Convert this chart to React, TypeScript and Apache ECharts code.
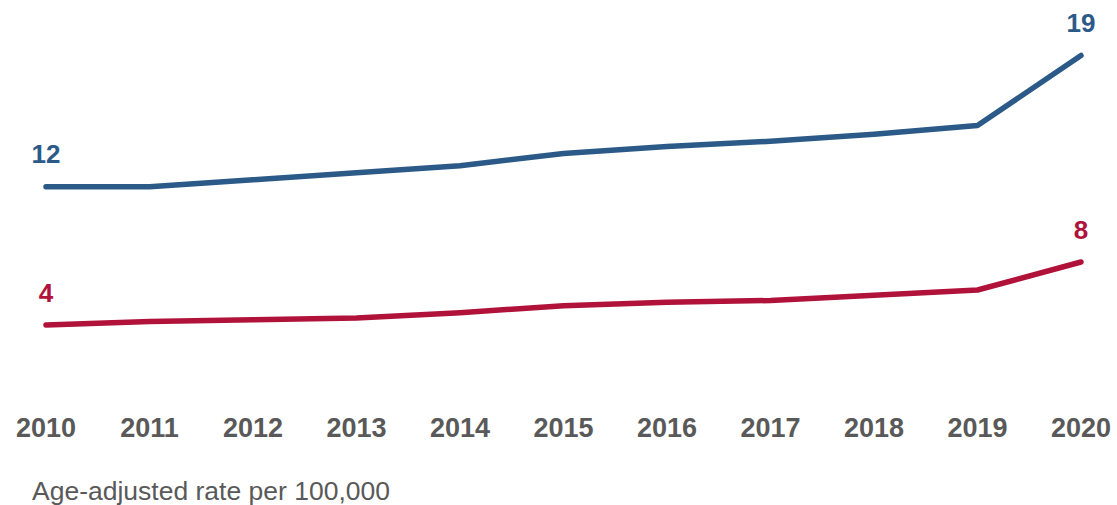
import React, { useEffect, useRef } from "react";
import * as echarts from "echarts";

const years = ["2010", "2011", "2012", "2013", "2014", "2015", "2016", "2017", "2018", "2019", "2020"];
const blueValues = [11.9, 11.9, 12.3, 12.7, 13.1, 13.8, 14.2, 14.5, 14.9, 15.4, 19.4];
const redValues = [4.0, 4.2, 4.3, 4.4, 4.7, 5.1, 5.3, 5.4, 5.7, 6.0, 7.6];
const subtitle = "Age-adjusted rate per 100,000";

const BLUE = "#2c5a88";
const RED = "#b0123a";
const GRAY = "#595959";
const FONT = "'Liberation Sans', Arial, sans-serif";

function endLabelData(values: number[], color: string) {
  const last = values.length - 1;
  return values.map((v, i) =>
    i === 0 || i === last
      ? {
          value: v,
          label: {
            show: true,
            position: "top",
            distance: 19,
            formatter: (p: any) => String(Math.round(p.value)),
            color,
            fontSize: 26,
            lineHeight: 26,
            fontWeight: "bold",
            fontFamily: FONT,
          },
        }
      : { value: v }
  );
}

function lineSeries(values: number[], color: string) {
  return {
    type: "line",
    data: endLabelData(values, color),
    symbol: "circle",
    symbolSize: 1,
    showSymbol: true,
    lineStyle: { color, width: 5.5, cap: "round", join: "round" },
    itemStyle: { color },
    label: { show: false },
  };
}

export default function App() {
  const ref = useRef<HTMLDivElement>(null);
  useEffect(() => {
    if (!ref.current) return;
    const chart = echarts.init(ref.current, null, { renderer: "svg" });
    chart.setOption({
      animation: false,
      grid: { left: 46, right: 36, top: 45, bottom: 110, containLabel: false },
      xAxis: {
        type: "category",
        data: years,
        boundaryGap: false,
        axisLine: { show: false },
        axisTick: { show: false },
        splitLine: { show: false },
        axisLabel: {
          color: GRAY,
          fontSize: 27,
          lineHeight: 27,
          fontWeight: "bold",
          fontFamily: FONT,
          margin: 19,
          interval: 0,
        },
      },
      yAxis: {
        type: "value",
        min: 0,
        max: 20,
        show: false,
        splitLine: { show: false },
      },
      series: [lineSeries(blueValues, BLUE), lineSeries(redValues, RED)],
      graphic: [
        {
          type: "text",
          x: 32,
          y: 491,
          style: {
            text: subtitle,
            fill: GRAY,
            fontSize: 26.5,
            fontFamily: FONT,
            verticalAlign: "middle",
            align: "left",
          },
        },
      ],
    });
    return () => chart.dispose();
  }, []);
  return (
    <div
      ref={ref}
      style={{ position: "absolute", left: 0, top: 0, width: 1117, height: 505 }}
    />
  );
}
